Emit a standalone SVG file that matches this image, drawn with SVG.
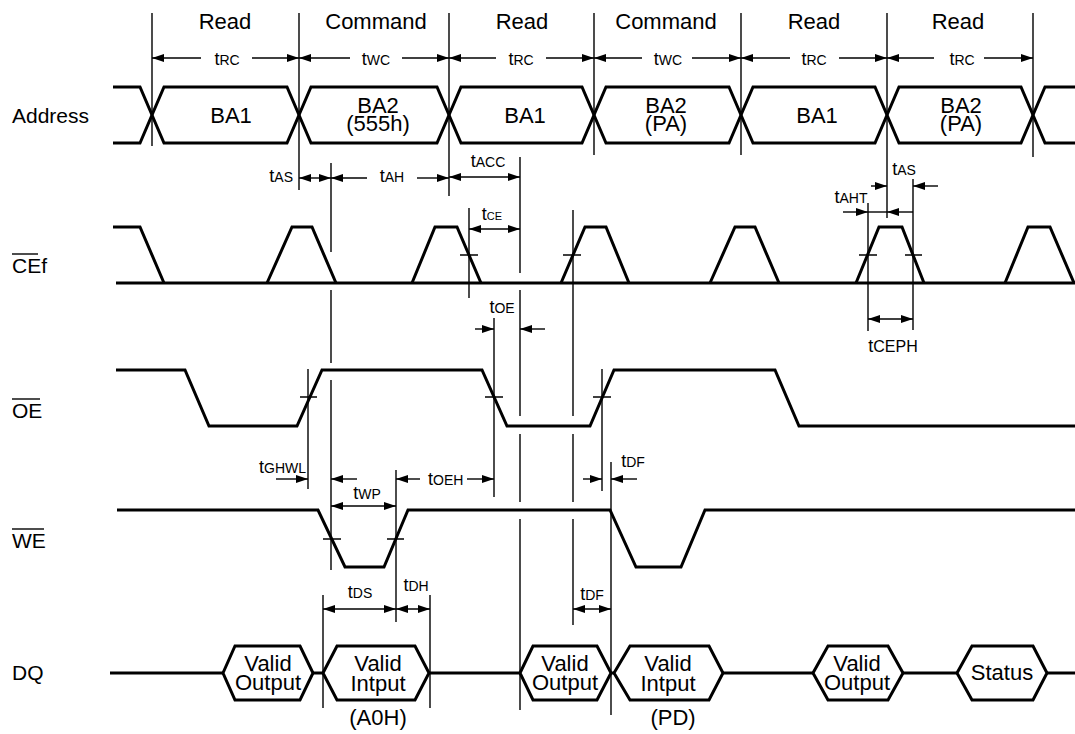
<svg xmlns="http://www.w3.org/2000/svg" width="1075" height="734" viewBox="0 0 1075 734">
<style>
text{font-family:"Liberation Sans",Arial,Helvetica,sans-serif;fill:#000}
.big{font-size:22px}
.lbl{font-size:21px}
.tm{font-size:18px}
.s{font-size:14px}
.ss{font-size:11px}
.sig{fill:none;stroke:#000;stroke-width:3;stroke-linejoin:miter}
.thin{fill:none;stroke:#000;stroke-width:1.4}
.arr{fill:none;stroke:#000;stroke-width:1.4;marker-end:url(#ah)}
.dbl{fill:none;stroke:#000;stroke-width:1.4;marker-start:url(#ah);marker-end:url(#ah)}
.mid{text-anchor:middle}
</style>
<defs>
<marker id="ah" viewBox="0 0 12 8" refX="12" refY="4" markerWidth="12" markerHeight="8" markerUnits="userSpaceOnUse" orient="auto-start-reverse">
<path d="M0,0 L12,4 L0,8 z" fill="#000"/>
</marker>
</defs>
<rect width="1075" height="734" fill="#fff"/>

<g id="headers">
<text class="big mid" x="225" y="29">Read</text>
<text class="big mid" x="376" y="29">Command</text>
<text class="big mid" x="522" y="29">Read</text>
<text class="big mid" x="666" y="29">Command</text>
<text class="big mid" x="814" y="29">Read</text>
<text class="big mid" x="958" y="29">Read</text>
</g>

<g id="signal-labels">
<text class="lbl" x="12" y="123">Address</text>
<text class="lbl" x="12" y="273">CEf</text>
<line class="thin" x1="12" y1="254" x2="38" y2="254"/>
<text class="lbl" x="12" y="418">OE</text>
<line class="thin" x1="12" y1="399" x2="40" y2="399"/>
<text class="lbl" x="12" y="548">WE</text>
<line class="thin" x1="12" y1="529" x2="44" y2="529"/>
<text class="lbl" x="12" y="680">DQ</text>
</g>

<g id="address">
<path class="sig" d="M113,87 L140,87 L152,115 L140,143 L113,143"/>
<path class="sig" d="M164,87 L287,87 L299,115 L287,143 L164,143 L152,115 Z"/>
<path class="sig" d="M311,87 L437,87 L449,115 L437,143 L311,143 L299,115 Z"/>
<path class="sig" d="M461,87 L582,87 L594,115 L582,143 L461,143 L449,115 Z"/>
<path class="sig" d="M606,87 L729,87 L741,115 L729,143 L606,143 L594,115 Z"/>
<path class="sig" d="M753,87 L875,87 L887,115 L875,143 L753,143 L741,115 Z"/>
<path class="sig" d="M899,87 L1021,87 L1033,115 L1021,143 L899,143 L887,115 Z"/>
<path class="sig" d="M1077,87 L1045,87 L1033,115 L1045,143 L1077,143"/>
<text class="big mid" x="231" y="123">BA1</text>
<text class="big mid" x="378" y="113">BA2</text>
<text class="big mid" x="378" y="131">(555h)</text>
<text class="big mid" x="525" y="123">BA1</text>
<text class="big mid" x="666" y="113">BA2</text>
<text class="big mid" x="666" y="131">(PA)</text>
<text class="big mid" x="817" y="123">BA1</text>
<text class="big mid" x="961" y="113">BA2</text>
<text class="big mid" x="961" y="131">(PA)</text>
</g>

<g id="cef">
<path class="sig" d="M113,227 L140,227 L164,283"/>
<path class="sig" d="M116,283 L1077,283"/>
<path class="sig" d="M267,283 L292,227 L312,227 L336,283"/>
<path class="sig" d="M412,283 L435,227 L457,227 L481,283"/>
<path class="sig" d="M561,283 L585,227 L606,227 L629,283"/>
<path class="sig" d="M710,283 L735,227 L755,227 L779,283"/>
<path class="sig" d="M856,283 L879,227 L902,227 L924,283"/>
<path class="sig" d="M1005,283 L1028,227 L1050,227 L1074,283"/>
</g>

<g id="oe">
<path class="sig" d="M116,370 L185,370 L209,426 L297,426 L322,370 L482,370 L507,426 L590,426 L614,370 L775,370 L799,426 L1077,426"/>
</g>

<g id="we">
<path class="sig" d="M117,510 L318,510 L345,567 L384,567 L408,510 L610,510 L636,567 L681,567 L705,510 L1077,510"/>
</g>

<g id="dq">
<path class="sig" d="M110,673 L223,673"/>
<path class="sig" d="M223,673 L235,646 L300,646 L313,673 L300,700 L235,700 Z"/>
<path class="sig" d="M313,673 L323,673"/>
<path class="sig" d="M323,673 L337,646 L415,646 L429,673 L415,700 L337,700 Z"/>
<path class="sig" d="M429,673 L520,673"/>
<path class="sig" d="M520,673 L533,646 L597,646 L611,673 L597,700 L533,700 Z"/>
<path class="sig" d="M611,673 L614,673"/>
<path class="sig" d="M614,673 L630,646 L709,646 L723,673 L709,700 L630,700 Z"/>
<path class="sig" d="M723,673 L813,673"/>
<path class="sig" d="M813,673 L828,646 L888,646 L903,673 L888,700 L828,700 Z"/>
<path class="sig" d="M903,673 L957,673"/>
<path class="sig" d="M957,673 L972,646 L1033,646 L1047,673 L1033,700 L972,700 Z"/>
<path class="sig" d="M1047,673 L1077,673"/>
<text class="big mid" x="268" y="671">Valid</text>
<text class="big mid" x="268" y="690">Output</text>
<text class="big mid" x="378" y="671">Valid</text>
<text class="big mid" x="378" y="691">Intput</text>
<text class="big mid" x="378" y="725">(A0H)</text>
<text class="big mid" x="565" y="671">Valid</text>
<text class="big mid" x="565" y="690">Output</text>
<text class="big mid" x="668" y="671">Valid</text>
<text class="big mid" x="668" y="691">Intput</text>
<text class="big mid" x="673" y="725">(PD)</text>
<text class="big mid" x="857" y="671">Valid</text>
<text class="big mid" x="857" y="690">Output</text>
<text class="big mid" x="1002" y="680">Status</text>
</g>

<g id="connectors">
<!-- cycle boundaries -->
<path class="thin" d="M152,13 V146 M299,13 V190 M449,13 V196 M594,13 V155 M741,13 V155 M887,13 V218 M1033,13 V157"/>
<!-- reference verticals -->
<path class="thin" d="M331,163 V252 M331,290 V363 M331,380 V570"/>
<path class="thin" d="M520,157 V273 M520,290 V416 M520,434 V502 M520,519 V710"/>
<path class="thin" d="M469,208 V298"/>
<path class="thin" d="M573,210 V416 M573,434 V502 M573,519 V625"/>
<path class="thin" d="M494,318 V497"/>
<path class="thin" d="M308,369 V489"/>
<path class="thin" d="M396,470 V622"/>
<path class="thin" d="M602,369 V491"/>
<path class="thin" d="M611,462 V715"/>
<path class="thin" d="M323,595 V708 M430,595 V708"/>
<path class="thin" d="M868,203 V331 M913,179 V330"/>
<!-- crossing ticks -->
<path class="thin" d="M460,255 H478 M563,255 H581 M859,255 H877 M905,255 H922 M300,397 H317 M485,397 H503 M593,397 H611 M323,539 H341 M387,539 H404"/>

<!-- cycle time arrows -->
<path class="arr" d="M201,58 H152"/><path class="arr" d="M252,58 H299"/>
<path class="arr" d="M350,58 H299"/><path class="arr" d="M402,58 H449"/>
<path class="arr" d="M496,58 H449"/><path class="arr" d="M546,58 H594"/>
<path class="arr" d="M642,58 H594"/><path class="arr" d="M692,58 H741"/>
<path class="arr" d="M790,58 H741"/><path class="arr" d="M839,58 H887"/>
<path class="arr" d="M934,58 H887"/><path class="arr" d="M984,58 H1033"/>

<!-- tAS / tAH -->
<path class="dbl" d="M299,178 H331"/>
<path class="arr" d="M367,178 H331"/><path class="arr" d="M417,178 H449"/>
<!-- tACC -->
<path class="dbl" d="M449,177 H520"/>
<!-- tCE -->
<path class="dbl" d="M469,229 H520"/>
<!-- tOE -->
<path class="arr" d="M475,329 H494"/><path class="arr" d="M545,329 H520"/>
<!-- right tAS / tAHT / tCEPH -->
<path class="arr" d="M871,186 H887"/><path class="arr" d="M938,186 H913"/>
<path class="arr" d="M843,212 H868"/><path class="thin" d="M868,212 H887"/><path class="arr" d="M913,212 H887"/>
<path class="dbl" d="M868,319 H913"/>
<!-- tGHWL -->
<path class="arr" d="M276,479 H308"/><path class="arr" d="M357,479 H331"/>
<!-- tWP -->
<path class="dbl" d="M331,506 H396"/>
<!-- tOEH -->
<path class="arr" d="M420,479 H396"/><path class="arr" d="M467,479 H494"/>
<!-- tDF upper -->
<path class="arr" d="M583,479 H602"/><path class="arr" d="M637,479 H611"/>
<!-- tDS / tDH / tDF lower -->
<path class="dbl" d="M323,609 H396"/>
<path class="dbl" d="M396,609 H430"/>
<path class="dbl" d="M573,609 H611"/>
</g>

<g id="timing-labels">
<text class="tm mid" x="227" y="65">t<tspan class="s">RC</tspan></text>
<text class="tm mid" x="376" y="65">t<tspan class="s">WC</tspan></text>
<text class="tm mid" x="521" y="65">t<tspan class="s">RC</tspan></text>
<text class="tm mid" x="668" y="65">t<tspan class="s">WC</tspan></text>
<text class="tm mid" x="814" y="65">t<tspan class="s">RC</tspan></text>
<text class="tm mid" x="962" y="65">t<tspan class="s">RC</tspan></text>
<text class="tm" x="293" y="182" text-anchor="end">t<tspan class="s">AS</tspan></text>
<text class="tm mid" x="392" y="182">t<tspan class="s">AH</tspan></text>
<text class="tm mid" x="488" y="167">t<tspan class="s">ACC</tspan></text>
<text class="tm mid" x="492" y="220">t<tspan class="ss">CE</tspan></text>
<text class="tm mid" x="502" y="313">t<tspan class="s">OE</tspan></text>
<text class="tm mid" x="904" y="175">t<tspan class="s">AS</tspan></text>
<text class="tm mid" x="851" y="203">t<tspan class="s">AHT</tspan></text>
<text class="tm mid" x="893" y="352">t<tspan class="s" style="font-size:16px">CEPH</tspan></text>
<text class="tm" x="306" y="473" text-anchor="end">t<tspan class="s">GHWL</tspan></text>
<text class="tm mid" x="367" y="499">t<tspan class="s">WP</tspan></text>
<text class="tm" x="428" y="485">t<tspan class="s">OEH</tspan></text>
<text class="tm mid" x="633" y="467">t<tspan class="s">DF</tspan></text>
<text class="tm mid" x="360" y="598">t<tspan class="s">DS</tspan></text>
<text class="tm mid" x="416" y="591">t<tspan class="s">DH</tspan></text>
<text class="tm mid" x="592" y="600">t<tspan class="s">DF</tspan></text>
</g>
</svg>
